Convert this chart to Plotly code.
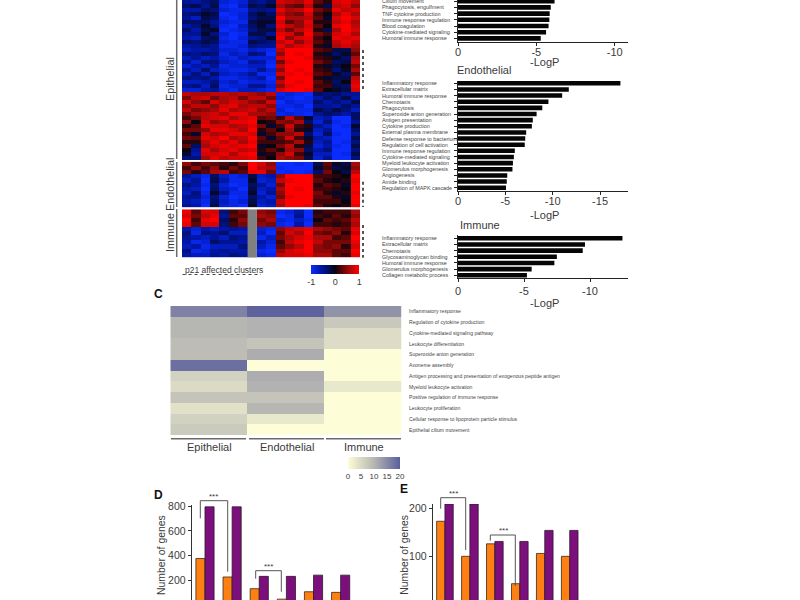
import plotly.graph_objects as go

FONT = "Liberation Sans"
INK = "#3a3a3a"

# ---------- panel A/B heatmap data (tenths of z-score) ----------
heat_epithelial = [
 [-5,-6,-4,-3,-8,-9,-8,-4,-5,-3,8,7,6,9,3,1,8,9,7],
 [-3,-2,-5,-2,-9,-10,-7,-2,-3,-1,6,4,3,7,1,-2,7,8,5],
 [-6,-6,-3,-4,-8,-9,-9,-5,-4,-5,9,6,7,10,4,2,9,7,8],
 [-4,-3,-1,-2,-10,-9,-8,-3,-1,-3,7,5,4,8,2,0,6,9,6],
 [-5,-7,-2,-3,-9,-10,-8,-4,-2,-2,10,6,6,7,3,-1,8,10,8],
 [-3,-3,-3,-5,-8,-9,-9,-2,-1,-1,8,3,5,9,1,1,7,9,6],
 [-6,-4,-1,-4,-9,-10,-7,-3,-1,-4,9,7,5,8,3,0,9,10,7],
 [-3,-6,-2,-1,-10,-9,-8,-4,-2,-2,7,4,7,9,1,-2,6,10,8],
 [-5,-5,-1,-4,-8,-10,-9,-2,-2,-5,9,8,4,10,4,2,8,9,6],
 [-6,-7,-3,-2,-9,-10,-8,-5,-4,-1,10,5,8,9,2,0,9,8,9],
 [-3,-4,-2,-3,-8,-9,-9,-2,-3,-4,7,9,5,8,3,1,7,9,7],
 [-6,-5,-4,-5,-9,-9,-8,-4,-5,-5,9,6,8,9,1,-1,6,8,6],
 [-7,-6,-6,-5,-8,-8,-9,-7,-8,-9,7,10,10,10,3,2,-2,-2,5],
 [-4,-5,-3,-4,-9,-7,-8,-4,-5,-10,5,10,9,10,1,-1,-3,-1,3],
 [-7,-5,-7,-6,-8,-9,-7,-8,-8,-8,8,10,10,9,2,1,-1,-3,6],
 [-5,-8,-4,-4,-7,-8,-9,-5,-6,-9,4,9,10,10,4,2,-3,-2,7],
 [-8,-6,-7,-5,-9,-8,-8,-7,-7,-10,7,10,10,10,1,-1,-2,0,4],
 [-5,-7,-3,-7,-8,-9,-9,-8,-5,-8,5,10,9,10,2,1,-4,-1,6],
 [-7,-4,-7,-3,-7,-8,-7,-5,-9,-9,8,9,10,9,3,2,-1,-3,3],
 [-4,-5,-4,-6,-9,-9,-8,-7,-6,-10,4,10,10,10,1,-1,-2,-2,7],
 [-7,-7,-6,-4,-8,-7,-9,-8,-8,-9,7,10,9,10,3,1,-3,0,8],
 [-5,-4,-7,-3,-9,-8,-8,-5,-5,-8,5,9,10,10,2,2,-2,-3,9],
 [-8,-8,-6,-5,-8,-9,-7,-7,-8,-9,8,10,10,9,3,0,-1,-2,8],
 [7,6,6,7,7,6,7,6,5,7,-9,-8,-9,-10,-3,-4,-3,-5,-5],
 [4,7,8,4,6,7,4,7,7,4,-8,-9,-10,-9,-6,-3,-5,-2,-6],
 [8,5,3,8,6,8,7,5,4,8,-10,-8,-9,-9,-3,-6,-4,-6,-2],
 [5,7,7,5,8,9,6,7,7,5,-9,-9,-8,-10,-5,-5,-6,-3,-5],
 [7,4,5,6,9,6,7,8,5,7,-8,-10,-9,-9,-2,-4,-2,-4,-7],
 [4,6,7,8,6,9,9,6,6,5,-9,-8,-9,-10,-5,-3,-4,-6,-3],
 [2,4,7,8,9,6,8,9,3,4,2,7,3,-1,-7,-6,-10,-10,-3],
 [5,0,8,5,6,9,9,10,0,1,5,4,6,-3,-8,-4,-9,-10,-5],
 [1,3,9,8,8,6,7,9,4,-1,2,8,2,1,-5,-7,-10,-9,-1],
 [4,4,5,9,9,8,6,10,1,3,0,6,1,-1,-7,-5,-10,-10,-3],
 [2,-1,8,6,7,9,9,8,-1,2,5,5,7,-3,-8,-3,-9,-10,-5],
 [4,3,9,8,10,6,7,10,3,-1,3,8,2,-1,-6,-7,-10,-10,-2],
 [1,1,7,9,7,9,6,9,2,2,2,3,6,1,-7,-5,-10,-9,-4],
 [3,-3,6,8,9,8,9,10,-1,0,4,7,1,-2,-8,-6,-9,-10,-2],
 [0,-5,9,6,8,9,7,8,1,3,1,6,5,-3,-6,-4,-10,-10,-4],
 [-1,-6,8,8,9,6,9,10,-1,1,5,8,2,-1,-7,-7,-10,-9,-2],
 [-4,-4,6,9,7,8,8,9,2,0,6,5,4,-2,-8,-5,-10,-10,-4],
]
heat_endothelial = [
 [5,2,4,3,2,1,4,10,8,5,-10,-10,-9,-10,-2,3,-1,-2,6],
 [2,5,2,5,1,4,2,10,7,6,-9,-10,-10,-10,-1,2,-2,-1,5],
 [4,1,3,6,7,2,3,9,9,4,-10,-9,-10,-9,-3,4,0,-2,7],
 [-5,-7,-9,-3,-7,-9,-8,-2,-7,-6,5,10,10,10,2,2,1,0,10],
 [-7,-5,-10,-2,-6,-9,-9,-1,-8,-7,7,9,10,10,3,1,0,1,9],
 [-4,-6,-9,-4,-8,-10,-9,-3,-5,-8,4,10,10,10,1,3,2,-1,10],
 [-6,-7,-10,-3,-7,-8,-10,-2,-7,-6,6,10,9,10,2,2,1,0,10],
 [-7,-4,-9,-1,-5,-9,-9,-1,-8,-5,5,10,10,10,4,1,-1,1,9],
 [-5,-5,-8,-4,-8,-10,-9,-3,-6,-8,4,9,10,10,3,3,1,-1,10],
 [-6,-7,-9,-3,-7,-9,-8,-2,-7,-6,7,10,10,10,2,2,2,0,10],
 [-5,-6,-10,-2,-8,-9,-10,-1,-8,-7,6,10,10,9,3,1,0,1,9],
]
heat_immune = [
 [9,3,8,8,-4,2,4,None,5,4,-9,-8,-6,-10,1,2,2,2,6],
 [8,4,7,9,-5,3,3,None,6,5,-10,-9,-5,-10,2,1,3,1,5],
 [10,2,9,10,-3,1,5,None,4,6,-8,-9,-7,-9,0,3,2,3,7],
 [9,3,8,8,-4,2,4,None,5,4,-9,-10,-6,-10,2,2,1,2,6],
 [-6,-8,-6,-7,-6,-5,-6,None,-8,-9,5,7,8,9,6,5,4,3,9],
 [-4,-9,-4,-5,-3,-7,-7,None,-7,-10,3,8,6,10,4,3,5,1,8],
 [-5,-6,-7,-5,-7,-4,-5,None,-9,-7,4,6,8,9,6,6,2,3,10],
 [-6,-9,-8,-3,-5,-5,-6,None,-6,-8,2,7,9,10,7,4,4,4,9],
 [-7,-6,-9,-7,-7,-7,-4,None,-7,-9,3,5,7,10,5,4,5,1,8],
 [-4,-9,-8,-6,-5,-6,-6,None,-9,-10,5,8,9,10,5,5,3,3,10],
 [-6,-7,-7,-5,-6,-4,-5,None,-8,-9,7,8,8,9,6,6,3,2,9],
]

# ---------- enrichment bars ----------
top_terms = ["Cilium movement","Phagocytosis, engulfment","TNF cytokine production",
             "Immune response regulation","Blood coagulation","Cytokine-mediated signaling",
             "Humoral immune response"]
top_vals = [-6.16,-5.92,-5.85,-5.83,-5.78,-5.62,-5.28]
endo_terms = ["Inflammatory response","Extracellular matrix","Humoral immune response","Chemotaxis",
              "Phagocytosis","Superoxide anion generation","Antigen presentation","Cytokine production",
              "External plasma membrane","Defense response to bacterium","Regulation of cell activation",
              "Immune response regulation","Cytokine-mediated signaling","Myeloid leukocyte activation",
              "Glomerulus morphogenesis","Angiogenesis","Amide binding","Regulation of MAPK cascade"]
endo_vals = [-17.15,-11.7,-11.0,-9.55,-8.9,-8.3,-7.9,-7.8,-7.2,-7.1,-7.05,-6.0,-5.9,-5.8,-5.75,-5.2,-5.15,-5.07]
imm_terms = ["Inflammatory response","Extracellular matrix","Chemotaxis","Glycosaminoglycan binding",
             "Humoral immune response","Glomerulus morphogenesis","Collagen metabolic process"]
imm_vals = [-12.46,-9.62,-9.45,-7.49,-7.3,-5.58,-5.22]

# ---------- panel C ----------
c_terms = ["Inflammatory response","Regulation of cytokine production","Cytokine-mediated signaling pathway",
           "Leukocyte differentiation","Superoxide anion generation","Axoneme assembly",
           "Antigen processing and presentation of exogenous peptide antigen","Myeloid leukocyte activation",
           "Positive regulation of immune response","Leukocyte proliferation",
           "Cellular response to lipoprotein particle stimulus","Epithelial cilium movement"]
c_cols = ["Epithelial","Endothelial","Immune"]
c_epi = [16,10,10,9,9,18,6,5,8,4,6,7]
c_endo = [19.5,10.5,10.5,8,11,0,11,10.5,8,10,3,0]
c_imm = [14,7.5,4.5,4.5,0,0,0,3,0,0,0,0]

# ---------- panels D, E ----------
groups = ["1","2","3","4","5","6"]
d_orange = [375,225,130,45,105,100]
d_purple = [795,795,230,230,240,240]
e_orange = [173,100,126,43,106,100]
e_purple = [209,209,131,131,154,154]

W, H = 800, 600
def px(x): return x / W
def py(y): return 1 - y / H

fig = go.Figure()
layout = dict(
    width=W, height=H, margin=dict(l=0, r=0, t=0, b=0, pad=0, autoexpand=False), autosize=False,
    paper_bgcolor="white", plot_bgcolor="white", showlegend=False,
    font=dict(family=FONT, color=INK),
    coloraxis=dict(cmin=-1, cmax=1,
        colorscale=[[0,"#0a2cff"],[0.2,"#0016a8"],[0.35,"#000e66"],[0.5,"#080410"],[0.65,"#5e0606"],[0.8,"#a80808"],[1,"#ff0000"]],
        colorbar=dict(orientation="h", x=px(335.3), xanchor="center", y=py(265), yanchor="top",
                      len=48, lenmode="pixels", thickness=9, outlinewidth=0, xpad=0, ypad=0,
                      tickvals=[-1,0,1], ticktext=["-1","0","1"], ticks="",
                      tickfont=dict(size=9, color=INK, family=FONT))),
    coloraxis2=dict(cmin=0, cmax=20,
        colorscale=[[0,"#fdfdd8"],[0.5,"#b6b6b2"],[1,"#5a5f9c"]],
        colorbar=dict(orientation="h", x=px(374), xanchor="center", y=py(456.7), yanchor="top",
                      len=52, lenmode="pixels", thickness=12, outlinewidth=0, xpad=0, ypad=0,
                      tickvals=[0,5,10,15,20], ticks="",
                      tickfont=dict(size=8, color=INK, family=FONT))),
)
shapes, annots = [], []

axis_n = 0
def add_axes(x0, x1, y_top, y_bot, xopts, yopts):
    global axis_n
    axis_n += 1
    s = "" if axis_n == 1 else str(axis_n)
    xo = dict(domain=[px(x0), px(x1)], anchor="y"+s, fixedrange=True, showgrid=False, zeroline=False)
    yo = dict(domain=[py(y_bot), py(y_top)], anchor="x"+s, fixedrange=True, showgrid=False, zeroline=False)
    xo.update(xopts); yo.update(yopts)
    layout["xaxis"+s] = xo
    layout["yaxis"+s] = yo
    return "x"+s, "y"+s

HIDE = dict(visible=False)

def text(x, y, s, size, color=INK, anchor="left", angle=0, bold=False):
    annots.append(dict(text=f"<b>{s}</b>" if bold else s, x=px(x), y=py(y), xref="paper", yref="paper",
                       xanchor=anchor, yanchor="middle", showarrow=False, textangle=angle,
                       font=dict(size=size, color=color, family=FONT)))

def line(x0, y0, x1, y1, color="#6a6a6a", width=1.5, dash="solid"):
    shapes.append(dict(type="line", xref="paper", yref="paper", x0=px(x0), y0=py(y0), x1=px(x1), y1=py(y1),
                       line=dict(color=color, width=width, dash=dash)))

# heatmaps
for rows, top, bot in [(heat_epithelial,0,160),(heat_endothelial,161.7,207.3),(heat_immune,209.3,257.7)]:
    xa, ya = add_axes(182, 360, top, bot, dict(HIDE, range=[-0.5,18.5]),
                      dict(HIDE, range=[len(rows)-0.5,-0.5]))
    fig.add_trace(go.Heatmap(z=[[None if v is None else v/10 for v in r] for r in rows],
                             coloraxis="coloraxis", xaxis=xa, yaxis=ya, zsmooth=False, hoverinfo="skip"))
    if rows is heat_immune:
        shapes.append(dict(type="rect", xref=xa, yref=ya, x0=6.5, x1=7.5, y0=-0.5, y1=len(rows)-0.5,
                           fillcolor="#808080", line_width=0))

# side labels
for label, yc, t, b in [("Epithelial",79,0,159),("Endothelial",185,162,207),("Immune",233,209,257)]:
    text(170, yc, label, 10.8, anchor="center", angle=-90)
    line(176.7, t, 176.7, b)
for t, b in [(50,90),(181.7,207),(225,257.7)]:
    line(363, t, 363, b, color="#555555", width=2, dash="dot")
text(182.5, 269.5, "p21 affected clusters", 8.5)
line(182.5, 274.5, 261, 274.5, color="#444444", width=1, dash="dot")

def bar_panel(terms, vals, y_first, pitch, y_axis, y_top, xmax, ticks, xlabel_y, standoff):
    r0 = (y_top - y_first) / pitch
    r1 = (y_axis - y_first) / pitch
    xa, ya = add_axes(458, 628, y_top, y_axis,
        dict(range=[0, -xmax], tickvals=[-t for t in ticks], ticktext=["0" if t == 0 else f"-{t}" for t in ticks],
             showline=True, linecolor="#222", linewidth=1, ticks="outside", ticklen=3, tickcolor="#222",
             ticklabelstandoff=standoff, tickfont=dict(size=11, color=INK, family=FONT)),
        dict(range=[r1, r0], type="linear", showline=True, linecolor="#222", linewidth=1, ticks="outside",
             ticklen=3, tickcolor="#222", tickvals=list(range(len(terms))), showticklabels=False))
    fig.add_trace(go.Bar(y=list(range(len(terms))), x=vals, orientation="h", width=0.74,
                         marker=dict(color="#050505", line_width=0), xaxis=xa, yaxis=ya, hoverinfo="skip"))
    for i, t in enumerate(terms):
        annots.append(dict(text=t, x=px(380), y=i, xref="paper", yref=ya, xanchor="left", yanchor="middle",
                           showarrow=False, font=dict(size=5.4, color="#444", family=FONT)))
    text(544.5, xlabel_y, "-LogP", 11, anchor="center")

bar_panel(top_terms, top_vals, 1.2, 6.2, 41.5, 0, 170/15.67, [0,5,10], 62, -3)
bar_panel(endo_terms, endo_vals, 83.3, 6.14, 191, 80.5, 170/9.47, [0,5,10,15], 215, -3)
bar_panel(imm_terms, imm_vals, 238.3, 6.17, 278, 235, 170/13.2, [0,5,10], 303, 0)
text(455, 70, "Endothelial", 11)
text(458, 225, "Immune", 11)

# panel C
xa, ya = add_axes(170.3, 401.7, 306, 435, dict(HIDE, type="category"),
                  dict(HIDE, type="category", autorange="reversed"))
fig.add_trace(go.Heatmap(z=[[a,b,c] for a,b,c in zip(c_epi,c_endo,c_imm)], x=c_cols, y=c_terms,
                         coloraxis="coloraxis2", xaxis=xa, yaxis=ya, hoverinfo="skip"))
for i, t in enumerate(c_terms):
    annots.append(dict(text=t, x=px(407), y=t, xref="paper", yref=ya, xanchor="left", yanchor="middle",
                       showarrow=False, font=dict(size=5.1, color="#444", family=FONT)))
for x0, x1, xc, s in [(171,246,209,"Epithelial"),(249,324,287,"Endothelial"),(326,401,364,"Immune")]:
    line(x0, 438.7, x1, 438.7, width=1.5)
    text(xc, 446.5, s, 11, anchor="center")
text(158, 294, "C", 12, color="#111", anchor="center", bold=True)

# panels D, E
def grouped(orange, purple, x0, x1, rng, ymax, ticks, y_top, width):
    xa, ya = add_axes(x0, x1, y_top, 600, dict(type="category", categoryarray=groups, categoryorder="array",
                                               range=[-0.49,5.5], showline=False, showticklabels=False),
        dict(range=[rng, ymax], tickvals=ticks, showline=True, linecolor="#333", linewidth=1, ticks="outside",
             ticklen=3, tickcolor="#333", tickfont=dict(size=10.5, color=INK, family=FONT)))
    fig.add_trace(go.Bar(x=groups, y=orange, offset=-width, width=width,
                         marker=dict(color="#ff8012", line=dict(color="#3a2a1a", width=0.8)),
                         xaxis=xa, yaxis=ya, hoverinfo="skip"))
    fig.add_trace(go.Bar(x=groups, y=purple, offset=0, width=width,
                         marker=dict(color="#7d0f7d", line=dict(color="#2a1a2a", width=0.8)),
                         xaxis=xa, yaxis=ya, hoverinfo="skip"))

grouped(d_orange, d_purple, 191.7, 354.2, 38, 810, [200,400,600,800], 505, 0.335)
grouped(e_orange, e_purple, 432.7, 582.2, 9, 209, [100,200], 504, 0.333)
text(158.5, 495, "D", 12, color="#111", anchor="center", bold=True)
text(404, 489, "E", 12, color="#111", anchor="center", bold=True)
text(161, 555, "Number of genes", 10.4, anchor="center", angle=-90)
text(405, 554.7, "Number of genes", 10.4, anchor="center", angle=-90)

def bracket(x0, y0, ytop, x1, y1, sx, sy):
    shapes.append(dict(type="path", xref="paper", yref="paper",
        path=f"M {px(x0)} {py(y0)} L {px(x0)} {py(ytop)} L {px(x1)} {py(ytop)} L {px(x1)} {py(y1)}",
        line=dict(color="#555", width=1)))
    text(sx, sy, "***", 8, anchor="center")

bracket(200.3, 518.3, 500.7, 227.7, 571.7, 213.7, 496)
bracket(255.7, 578.7, 570.7, 281.3, 591.7, 268, 566)
bracket(440.7, 508.7, 497.7, 465.7, 550, 453.3, 493)
bracket(490.3, 540.7, 535, 515.3, 586, 503, 530)

layout["shapes"] = shapes
layout["annotations"] = annots
fig.update_layout(**layout)
fig.write_html("out.html", config={"displayModeBar": False, "responsive": False},
               post_script="document.documentElement.style.margin='0';document.body.style.margin='0';document.body.style.padding='0';")
